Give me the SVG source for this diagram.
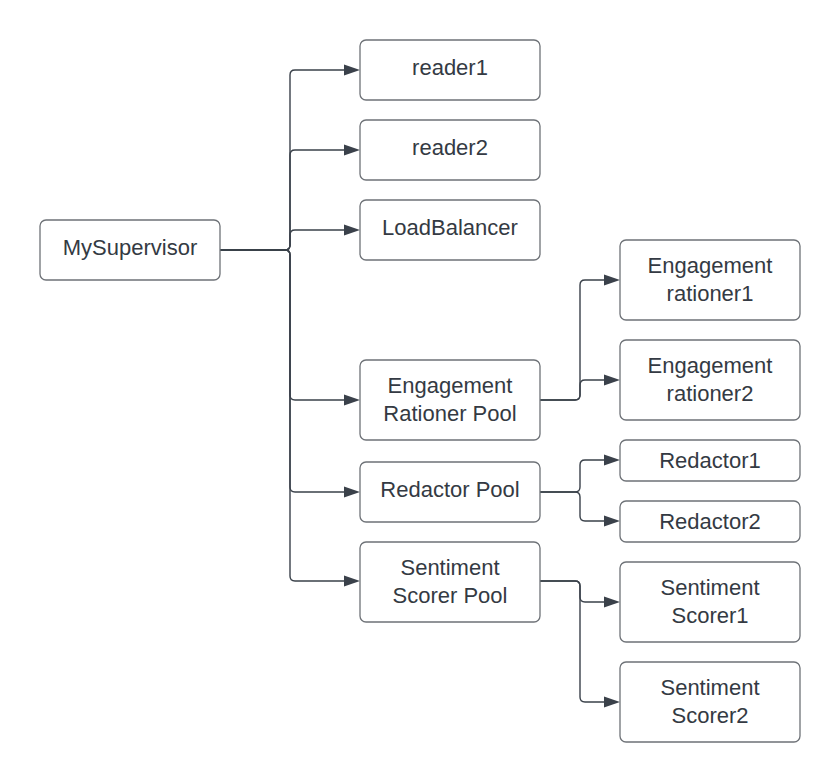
<svg xmlns="http://www.w3.org/2000/svg" width="840" height="782" viewBox="0 0 840 782">
<style>
.box{fill:#ffffff;stroke:#6e7277;stroke-width:1.3}
.lbl{font-family:"Liberation Sans",Arial,sans-serif;font-size:22px;fill:#343a43;text-anchor:middle}
.conn{fill:none;stroke:#3a414a;stroke-width:1.4}
</style>
<defs>
<marker id="arr" markerUnits="userSpaceOnUse" markerWidth="16" markerHeight="12" refX="0" refY="6" orient="auto">
<path d="M0,0.5 L16,6 L0,11.5 z" fill="#3a414a"/>
</marker>
</defs>
<rect width="840" height="782" fill="#ffffff"/>
<g id="connectors">
<path class="conn" marker-end="url(#arr)" d="M220,250 H285 Q290,250 290,245 V75 Q290,70 295,70 H344"/>
<path class="conn" marker-end="url(#arr)" d="M220,250 H285 Q290,250 290,245 V155 Q290,150 295,150 H344"/>
<path class="conn" marker-end="url(#arr)" d="M220,250 H285 Q290,250 290,245 V235 Q290,230 295,230 H344"/>
<path class="conn" marker-end="url(#arr)" d="M220,250 H285 Q290,250 290,255 V395 Q290,400 295,400 H344"/>
<path class="conn" marker-end="url(#arr)" d="M220,250 H285 Q290,250 290,255 V487 Q290,492 295,492 H344"/>
<path class="conn" marker-end="url(#arr)" d="M220,250 H285 Q290,250 290,255 V576 Q290,581 295,581 H344"/>
<path class="conn" marker-end="url(#arr)" d="M540,400 H575 Q580,400 580,395 V285 Q580,280 585,280 H604"/>
<path class="conn" marker-end="url(#arr)" d="M540,400 H575 Q580,400 580,395 V385 Q580,380 585,380 H604"/>
<path class="conn" marker-end="url(#arr)" d="M540,492 H575 Q580,492 580,487 V465 Q580,460 585,460 H604"/>
<path class="conn" marker-end="url(#arr)" d="M540,492 H575 Q580,492 580,497 V516 Q580,521 585,521 H604"/>
<path class="conn" marker-end="url(#arr)" d="M540,581 H575 Q580,581 580,586 V597 Q580,602 585,602 H604"/>
<path class="conn" marker-end="url(#arr)" d="M540,581 H575 Q580,581 580,586 V697 Q580,702 585,702 H604"/>
</g>
<g id="mysupervisor"><rect class="box" x="40" y="220" width="180" height="60" rx="6"/><text class="lbl" x="130" y="255">MySupervisor</text></g>
<g id="reader1"><rect class="box" x="360" y="40" width="180" height="60" rx="6"/><text class="lbl" x="450" y="75">reader1</text></g>
<g id="reader2"><rect class="box" x="360" y="120" width="180" height="60" rx="6"/><text class="lbl" x="450" y="155">reader2</text></g>
<g id="loadbalancer"><rect class="box" x="360" y="200" width="180" height="60" rx="6"/><text class="lbl" x="450" y="235">LoadBalancer</text></g>
<g id="engagement-pool"><rect class="box" x="360" y="360" width="180" height="80" rx="6"/><text class="lbl" x="450" y="393">Engagement</text><text class="lbl" x="450" y="420.5">Rationer Pool</text></g>
<g id="redactor-pool"><rect class="box" x="360" y="462" width="180" height="60" rx="6"/><text class="lbl" x="450" y="497">Redactor Pool</text></g>
<g id="sentiment-pool"><rect class="box" x="360" y="542" width="180" height="80" rx="6"/><text class="lbl" x="450" y="575">Sentiment</text><text class="lbl" x="450" y="602.5">Scorer Pool</text></g>
<g id="rationer1"><rect class="box" x="620" y="240" width="180" height="80" rx="6"/><text class="lbl" x="710" y="273">Engagement</text><text class="lbl" x="710" y="300.5">rationer1</text></g>
<g id="rationer2"><rect class="box" x="620" y="340" width="180" height="80" rx="6"/><text class="lbl" x="710" y="373">Engagement</text><text class="lbl" x="710" y="400.5">rationer2</text></g>
<g id="redactor1"><rect class="box" x="620" y="440" width="180" height="41" rx="6"/><text class="lbl" x="710" y="467.5">Redactor1</text></g>
<g id="redactor2"><rect class="box" x="620" y="501" width="180" height="41" rx="6"/><text class="lbl" x="710" y="528.5">Redactor2</text></g>
<g id="scorer1"><rect class="box" x="620" y="562" width="180" height="80" rx="6"/><text class="lbl" x="710" y="595">Sentiment</text><text class="lbl" x="710" y="622.5">Scorer1</text></g>
<g id="scorer2"><rect class="box" x="620" y="662" width="180" height="80" rx="6"/><text class="lbl" x="710" y="695">Sentiment</text><text class="lbl" x="710" y="722.5">Scorer2</text></g>
</svg>
